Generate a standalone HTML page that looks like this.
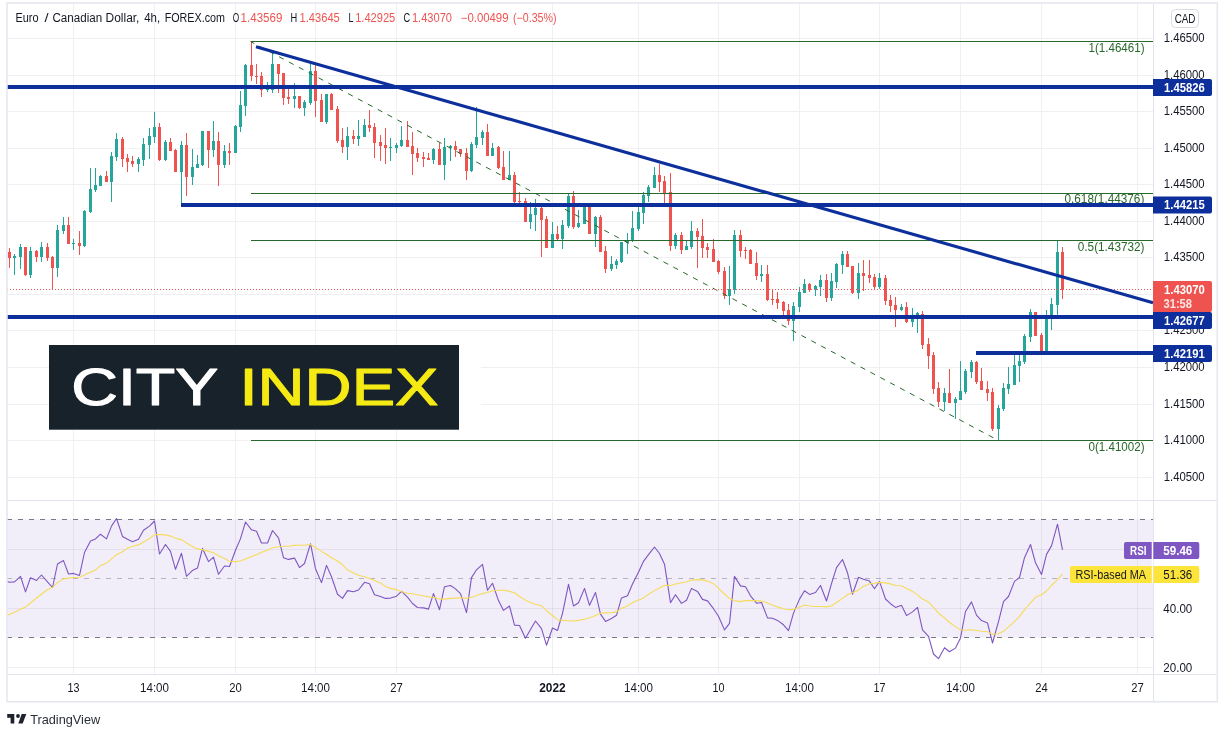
<!DOCTYPE html>
<html lang="en"><head><meta charset="utf-8"><title>EUR/CAD 4h chart</title>
<style>html,body{margin:0;padding:0;background:#fff}body{width:1227px;height:737px;overflow:hidden}svg{display:block}text{font-family:"Liberation Sans", sans-serif}</style>
</head><body>
<svg width="1227" height="737" viewBox="0 0 1227 737">
<rect x="0" y="0" width="1227" height="737" fill="#ffffff"/>
<g stroke="#f0f0f2" stroke-width="1" shape-rendering="crispEdges">
<line x1="73.5" y1="3" x2="73.5" y2="674"/>
<line x1="154.5" y1="3" x2="154.5" y2="674"/>
<line x1="235.5" y1="3" x2="235.5" y2="674"/>
<line x1="315.5" y1="3" x2="315.5" y2="674"/>
<line x1="396.5" y1="3" x2="396.5" y2="674"/>
<line x1="552.5" y1="3" x2="552.5" y2="674"/>
<line x1="638.5" y1="3" x2="638.5" y2="674"/>
<line x1="718.5" y1="3" x2="718.5" y2="674"/>
<line x1="799.5" y1="3" x2="799.5" y2="674"/>
<line x1="879.5" y1="3" x2="879.5" y2="674"/>
<line x1="960.5" y1="3" x2="960.5" y2="674"/>
<line x1="1041.5" y1="3" x2="1041.5" y2="674"/>
<line x1="1137.5" y1="3" x2="1137.5" y2="674"/>
<line x1="7" y1="38.5" x2="1153" y2="38.5"/>
<line x1="7" y1="75.5" x2="1153" y2="75.5"/>
<line x1="7" y1="111.5" x2="1153" y2="111.5"/>
<line x1="7" y1="148.5" x2="1153" y2="148.5"/>
<line x1="7" y1="184.5" x2="1153" y2="184.5"/>
<line x1="7" y1="221.5" x2="1153" y2="221.5"/>
<line x1="7" y1="257.5" x2="1153" y2="257.5"/>
<line x1="7" y1="294.5" x2="1153" y2="294.5"/>
<line x1="7" y1="330.5" x2="1153" y2="330.5"/>
<line x1="7" y1="367.5" x2="1153" y2="367.5"/>
<line x1="7" y1="404.5" x2="1153" y2="404.5"/>
<line x1="7" y1="440.5" x2="1153" y2="440.5"/>
<line x1="7" y1="477.5" x2="1153" y2="477.5"/>
</g>
<rect x="7" y="519.5" width="1146" height="118" fill="#7e57c2" fill-opacity="0.105"/>
<g stroke="#2a2e39" stroke-opacity="0.07" stroke-width="1" shape-rendering="crispEdges">
<line x1="7" y1="549.5" x2="1153" y2="549.5"/>
<line x1="7" y1="608.5" x2="1153" y2="608.5"/>
<line x1="7" y1="667.5" x2="1153" y2="667.5"/>
</g>
<g stroke-width="1" fill="none" shape-rendering="crispEdges">
<line x1="7" y1="519.5" x2="1153" y2="519.5" stroke="#787b86" stroke-dasharray="5 6"/>
<line x1="7" y1="637.5" x2="1153" y2="637.5" stroke="#787b86" stroke-dasharray="5 6"/>
<line x1="7" y1="578.5" x2="1153" y2="578.5" stroke="#787b86" stroke-opacity="0.5" stroke-dasharray="5 6"/>
</g>
<g fill="#26a69a" shape-rendering="crispEdges"><rect x="14" y="254" width="1" height="21"/><rect x="13" y="256" width="3" height="2"/><rect x="20" y="244" width="1" height="25"/><rect x="19" y="247" width="3" height="10"/><rect x="30" y="247" width="1" height="31"/><rect x="29" y="251" width="3" height="24"/><rect x="41" y="242" width="1" height="20"/><rect x="40" y="247" width="3" height="10"/><rect x="57" y="225" width="1" height="52"/><rect x="56" y="230" width="3" height="38"/><rect x="63" y="217" width="1" height="17"/><rect x="62" y="225" width="3" height="6"/><rect x="73" y="239" width="1" height="11"/><rect x="72" y="243" width="3" height="1"/><rect x="84" y="210" width="1" height="37"/><rect x="83" y="211" width="3" height="35"/><rect x="90" y="168" width="1" height="45"/><rect x="89" y="189" width="3" height="23"/><rect x="95" y="168" width="1" height="24"/><rect x="94" y="185" width="3" height="5"/><rect x="100" y="175" width="1" height="11"/><rect x="99" y="176" width="3" height="10"/><rect x="111" y="152" width="1" height="50"/><rect x="110" y="156" width="3" height="26"/><rect x="116" y="133" width="1" height="28"/><rect x="115" y="139" width="3" height="18"/><rect x="138" y="157" width="1" height="15"/><rect x="137" y="159" width="3" height="5"/><rect x="143" y="138" width="1" height="28"/><rect x="142" y="144" width="3" height="16"/><rect x="149" y="128" width="1" height="31"/><rect x="148" y="136" width="3" height="9"/><rect x="154" y="112" width="1" height="31"/><rect x="153" y="127" width="3" height="10"/><rect x="165" y="140" width="1" height="21"/><rect x="164" y="142" width="3" height="18"/><rect x="181" y="141" width="1" height="63"/><rect x="180" y="145" width="3" height="27"/><rect x="192" y="149" width="1" height="36"/><rect x="191" y="167" width="3" height="10"/><rect x="197" y="155" width="1" height="13"/><rect x="196" y="164" width="3" height="4"/><rect x="202" y="131" width="1" height="35"/><rect x="201" y="131" width="3" height="34"/><rect x="213" y="121" width="1" height="36"/><rect x="212" y="141" width="3" height="9"/><rect x="224" y="145" width="1" height="23"/><rect x="223" y="151" width="3" height="14"/><rect x="235" y="125" width="1" height="28"/><rect x="234" y="126" width="3" height="27"/><rect x="240" y="91" width="1" height="41"/><rect x="239" y="105" width="3" height="22"/><rect x="245" y="64" width="1" height="52"/><rect x="244" y="65" width="3" height="41"/><rect x="267" y="82" width="1" height="10"/><rect x="266" y="86" width="3" height="4"/><rect x="272" y="53" width="1" height="40"/><rect x="271" y="64" width="3" height="26"/><rect x="294" y="83" width="1" height="25"/><rect x="293" y="96" width="3" height="3"/><rect x="304" y="100" width="1" height="16"/><rect x="303" y="102" width="3" height="6"/><rect x="310" y="64" width="1" height="41"/><rect x="309" y="71" width="3" height="32"/><rect x="326" y="94" width="1" height="30"/><rect x="325" y="94" width="3" height="28"/><rect x="347" y="127" width="1" height="33"/><rect x="346" y="136" width="3" height="11"/><rect x="358" y="120" width="1" height="26"/><rect x="357" y="136" width="3" height="3"/><rect x="364" y="119" width="1" height="18"/><rect x="363" y="125" width="3" height="12"/><rect x="390" y="138" width="1" height="23"/><rect x="389" y="147" width="3" height="1"/><rect x="396" y="143" width="1" height="10"/><rect x="395" y="145" width="3" height="3"/><rect x="401" y="126" width="1" height="21"/><rect x="400" y="140" width="3" height="6"/><rect x="433" y="148" width="1" height="16"/><rect x="432" y="149" width="3" height="11"/><rect x="444" y="138" width="1" height="42"/><rect x="443" y="147" width="3" height="18"/><rect x="450" y="145" width="1" height="16"/><rect x="449" y="146" width="3" height="2"/><rect x="471" y="142" width="1" height="30"/><rect x="470" y="144" width="3" height="27"/><rect x="476" y="107" width="1" height="41"/><rect x="475" y="137" width="3" height="8"/><rect x="482" y="130" width="1" height="15"/><rect x="481" y="132" width="3" height="6"/><rect x="492" y="143" width="1" height="13"/><rect x="491" y="148" width="3" height="8"/><rect x="509" y="151" width="1" height="29"/><rect x="508" y="175" width="3" height="5"/><rect x="530" y="202" width="1" height="27"/><rect x="529" y="214" width="3" height="8"/><rect x="535" y="199" width="1" height="32"/><rect x="534" y="208" width="3" height="7"/><rect x="552" y="222" width="1" height="26"/><rect x="551" y="234" width="3" height="14"/><rect x="562" y="220" width="1" height="29"/><rect x="561" y="225" width="3" height="14"/><rect x="568" y="194" width="1" height="34"/><rect x="567" y="196" width="3" height="30"/><rect x="578" y="210" width="1" height="18"/><rect x="577" y="223" width="3" height="4"/><rect x="584" y="206" width="1" height="18"/><rect x="583" y="206" width="3" height="18"/><rect x="595" y="216" width="1" height="31"/><rect x="594" y="217" width="3" height="17"/><rect x="611" y="256" width="1" height="15"/><rect x="610" y="264" width="3" height="5"/><rect x="616" y="259" width="1" height="10"/><rect x="615" y="261" width="3" height="4"/><rect x="621" y="242" width="1" height="21"/><rect x="620" y="242" width="3" height="20"/><rect x="627" y="233" width="1" height="21"/><rect x="626" y="241" width="3" height="2"/><rect x="632" y="211" width="1" height="31"/><rect x="631" y="228" width="3" height="13"/><rect x="638" y="206" width="1" height="25"/><rect x="637" y="212" width="3" height="17"/><rect x="643" y="192" width="1" height="32"/><rect x="642" y="195" width="3" height="18"/><rect x="648" y="185" width="1" height="17"/><rect x="647" y="187" width="3" height="9"/><rect x="654" y="167" width="1" height="21"/><rect x="653" y="175" width="3" height="13"/><rect x="675" y="233" width="1" height="16"/><rect x="674" y="235" width="3" height="11"/><rect x="686" y="241" width="1" height="9"/><rect x="685" y="246" width="3" height="4"/><rect x="691" y="221" width="1" height="28"/><rect x="690" y="231" width="3" height="16"/><rect x="729" y="266" width="1" height="39"/><rect x="728" y="289" width="3" height="7"/><rect x="734" y="230" width="1" height="64"/><rect x="733" y="235" width="3" height="55"/><rect x="761" y="265" width="1" height="17"/><rect x="760" y="274" width="3" height="2"/><rect x="793" y="302" width="1" height="39"/><rect x="792" y="306" width="3" height="15"/><rect x="799" y="287" width="1" height="25"/><rect x="798" y="292" width="3" height="15"/><rect x="804" y="279" width="1" height="14"/><rect x="803" y="284" width="3" height="9"/><rect x="815" y="285" width="1" height="11"/><rect x="814" y="286" width="3" height="4"/><rect x="820" y="275" width="1" height="21"/><rect x="819" y="280" width="3" height="7"/><rect x="831" y="273" width="1" height="28"/><rect x="830" y="281" width="3" height="17"/><rect x="836" y="263" width="1" height="25"/><rect x="835" y="264" width="3" height="18"/><rect x="842" y="251" width="1" height="23"/><rect x="841" y="254" width="3" height="11"/><rect x="858" y="263" width="1" height="36"/><rect x="857" y="273" width="3" height="20"/><rect x="879" y="273" width="1" height="16"/><rect x="878" y="278" width="3" height="9"/><rect x="901" y="304" width="1" height="7"/><rect x="900" y="307" width="3" height="3"/><rect x="912" y="308" width="1" height="19"/><rect x="911" y="316" width="3" height="6"/><rect x="917" y="312" width="1" height="21"/><rect x="916" y="313" width="3" height="2"/><rect x="944" y="388" width="1" height="23"/><rect x="943" y="393" width="3" height="9"/><rect x="955" y="397" width="1" height="22"/><rect x="954" y="399" width="3" height="4"/><rect x="960" y="361" width="1" height="39"/><rect x="959" y="391" width="3" height="9"/><rect x="965" y="369" width="1" height="25"/><rect x="964" y="371" width="3" height="21"/><rect x="971" y="360" width="1" height="18"/><rect x="970" y="362" width="3" height="10"/><rect x="998" y="405" width="1" height="35"/><rect x="997" y="408" width="3" height="21"/><rect x="1003" y="383" width="1" height="28"/><rect x="1002" y="388" width="3" height="21"/><rect x="1008" y="367" width="1" height="27"/><rect x="1007" y="384" width="3" height="5"/><rect x="1014" y="355" width="1" height="30"/><rect x="1013" y="365" width="3" height="20"/><rect x="1019" y="355" width="1" height="27"/><rect x="1018" y="361" width="3" height="5"/><rect x="1024" y="334" width="1" height="30"/><rect x="1023" y="336" width="3" height="26"/><rect x="1030" y="309" width="1" height="33"/><rect x="1029" y="312" width="3" height="25"/><rect x="1046" y="310" width="1" height="42"/><rect x="1045" y="317" width="3" height="35"/><rect x="1051" y="298" width="1" height="32"/><rect x="1050" y="304" width="3" height="11"/><rect x="1057" y="241" width="1" height="74"/><rect x="1056" y="252" width="3" height="53"/></g>
<g fill="#ef5350" shape-rendering="crispEdges"><rect x="9" y="248" width="1" height="20"/><rect x="8" y="252" width="3" height="6"/><rect x="25" y="247" width="1" height="29"/><rect x="24" y="247" width="3" height="28"/><rect x="36" y="250" width="1" height="12"/><rect x="35" y="251" width="3" height="6"/><rect x="47" y="243" width="1" height="18"/><rect x="46" y="247" width="3" height="11"/><rect x="52" y="256" width="1" height="33"/><rect x="51" y="257" width="3" height="11"/><rect x="68" y="217" width="1" height="27"/><rect x="67" y="225" width="3" height="19"/><rect x="79" y="231" width="1" height="24"/><rect x="78" y="243" width="3" height="3"/><rect x="106" y="171" width="1" height="11"/><rect x="105" y="176" width="3" height="6"/><rect x="122" y="137" width="1" height="30"/><rect x="121" y="139" width="3" height="20"/><rect x="127" y="154" width="1" height="18"/><rect x="126" y="158" width="3" height="4"/><rect x="132" y="156" width="1" height="11"/><rect x="131" y="161" width="3" height="3"/><rect x="159" y="123" width="1" height="38"/><rect x="158" y="127" width="3" height="33"/><rect x="170" y="138" width="1" height="13"/><rect x="169" y="142" width="3" height="9"/><rect x="175" y="149" width="1" height="23"/><rect x="174" y="150" width="3" height="22"/><rect x="186" y="133" width="1" height="63"/><rect x="185" y="145" width="3" height="32"/><rect x="208" y="131" width="1" height="37"/><rect x="207" y="131" width="3" height="19"/><rect x="218" y="132" width="1" height="54"/><rect x="217" y="141" width="3" height="24"/><rect x="229" y="143" width="1" height="22"/><rect x="228" y="151" width="3" height="2"/><rect x="251" y="41" width="1" height="40"/><rect x="250" y="65" width="3" height="11"/><rect x="256" y="64" width="1" height="20"/><rect x="255" y="76" width="3" height="1"/><rect x="261" y="72" width="1" height="25"/><rect x="260" y="76" width="3" height="14"/><rect x="278" y="64" width="1" height="29"/><rect x="277" y="64" width="3" height="10"/><rect x="283" y="73" width="1" height="32"/><rect x="282" y="73" width="3" height="25"/><rect x="288" y="89" width="1" height="15"/><rect x="287" y="97" width="3" height="2"/><rect x="299" y="96" width="1" height="13"/><rect x="298" y="96" width="3" height="12"/><rect x="315" y="65" width="1" height="52"/><rect x="314" y="71" width="3" height="30"/><rect x="321" y="94" width="1" height="28"/><rect x="320" y="100" width="3" height="22"/><rect x="331" y="93" width="1" height="17"/><rect x="330" y="94" width="3" height="16"/><rect x="337" y="106" width="1" height="37"/><rect x="336" y="109" width="3" height="32"/><rect x="342" y="128" width="1" height="25"/><rect x="341" y="140" width="3" height="7"/><rect x="353" y="130" width="1" height="14"/><rect x="352" y="136" width="3" height="3"/><rect x="369" y="110" width="1" height="22"/><rect x="368" y="125" width="3" height="3"/><rect x="374" y="123" width="1" height="35"/><rect x="373" y="127" width="3" height="16"/><rect x="380" y="135" width="1" height="26"/><rect x="379" y="142" width="3" height="4"/><rect x="385" y="128" width="1" height="36"/><rect x="384" y="145" width="3" height="3"/><rect x="407" y="121" width="1" height="26"/><rect x="406" y="140" width="3" height="7"/><rect x="412" y="132" width="1" height="43"/><rect x="411" y="146" width="3" height="8"/><rect x="417" y="148" width="1" height="14"/><rect x="416" y="153" width="3" height="5"/><rect x="423" y="152" width="1" height="15"/><rect x="422" y="157" width="3" height="2"/><rect x="428" y="153" width="1" height="7"/><rect x="427" y="158" width="3" height="2"/><rect x="439" y="143" width="1" height="22"/><rect x="438" y="149" width="3" height="16"/><rect x="455" y="141" width="1" height="16"/><rect x="454" y="146" width="3" height="4"/><rect x="460" y="149" width="1" height="8"/><rect x="459" y="149" width="3" height="5"/><rect x="466" y="148" width="1" height="32"/><rect x="465" y="153" width="3" height="18"/><rect x="487" y="124" width="1" height="32"/><rect x="486" y="132" width="3" height="24"/><rect x="498" y="146" width="1" height="23"/><rect x="497" y="147" width="3" height="21"/><rect x="503" y="151" width="1" height="29"/><rect x="502" y="167" width="3" height="13"/><rect x="514" y="172" width="1" height="31"/><rect x="513" y="175" width="3" height="27"/><rect x="519" y="192" width="1" height="11"/><rect x="518" y="201" width="3" height="1"/><rect x="525" y="198" width="1" height="24"/><rect x="524" y="201" width="3" height="21"/><rect x="541" y="207" width="1" height="50"/><rect x="540" y="208" width="3" height="12"/><rect x="546" y="216" width="1" height="32"/><rect x="545" y="219" width="3" height="29"/><rect x="557" y="226" width="1" height="14"/><rect x="556" y="234" width="3" height="5"/><rect x="573" y="191" width="1" height="38"/><rect x="572" y="196" width="3" height="31"/><rect x="589" y="206" width="1" height="28"/><rect x="588" y="206" width="3" height="28"/><rect x="600" y="215" width="1" height="37"/><rect x="599" y="217" width="3" height="35"/><rect x="605" y="246" width="1" height="27"/><rect x="604" y="251" width="3" height="18"/><rect x="659" y="164" width="1" height="28"/><rect x="658" y="175" width="3" height="7"/><rect x="664" y="176" width="1" height="27"/><rect x="663" y="181" width="3" height="12"/><rect x="670" y="173" width="1" height="78"/><rect x="669" y="192" width="3" height="54"/><rect x="681" y="232" width="1" height="22"/><rect x="680" y="235" width="3" height="15"/><rect x="697" y="228" width="1" height="40"/><rect x="696" y="231" width="3" height="6"/><rect x="702" y="219" width="1" height="39"/><rect x="701" y="236" width="3" height="12"/><rect x="707" y="243" width="1" height="15"/><rect x="706" y="247" width="3" height="3"/><rect x="713" y="239" width="1" height="23"/><rect x="712" y="249" width="3" height="13"/><rect x="718" y="260" width="1" height="14"/><rect x="717" y="261" width="3" height="11"/><rect x="724" y="267" width="1" height="32"/><rect x="723" y="271" width="3" height="25"/><rect x="740" y="230" width="1" height="27"/><rect x="739" y="235" width="3" height="16"/><rect x="745" y="247" width="1" height="12"/><rect x="744" y="250" width="3" height="1"/><rect x="750" y="249" width="1" height="15"/><rect x="749" y="250" width="3" height="14"/><rect x="756" y="252" width="1" height="28"/><rect x="755" y="263" width="3" height="13"/><rect x="767" y="265" width="1" height="36"/><rect x="766" y="274" width="3" height="26"/><rect x="772" y="289" width="1" height="16"/><rect x="771" y="299" width="3" height="1"/><rect x="777" y="292" width="1" height="17"/><rect x="776" y="299" width="3" height="4"/><rect x="783" y="301" width="1" height="14"/><rect x="782" y="302" width="3" height="9"/><rect x="788" y="304" width="1" height="21"/><rect x="787" y="310" width="3" height="11"/><rect x="809" y="283" width="1" height="9"/><rect x="808" y="284" width="3" height="6"/><rect x="826" y="274" width="1" height="28"/><rect x="825" y="280" width="3" height="18"/><rect x="847" y="251" width="1" height="16"/><rect x="846" y="254" width="3" height="13"/><rect x="852" y="266" width="1" height="28"/><rect x="851" y="266" width="3" height="27"/><rect x="863" y="260" width="1" height="31"/><rect x="862" y="273" width="3" height="3"/><rect x="869" y="260" width="1" height="23"/><rect x="868" y="275" width="3" height="3"/><rect x="874" y="274" width="1" height="16"/><rect x="873" y="277" width="3" height="10"/><rect x="885" y="275" width="1" height="30"/><rect x="884" y="278" width="3" height="23"/><rect x="890" y="295" width="1" height="17"/><rect x="889" y="300" width="3" height="6"/><rect x="895" y="297" width="1" height="30"/><rect x="894" y="305" width="3" height="5"/><rect x="906" y="302" width="1" height="21"/><rect x="905" y="307" width="3" height="15"/><rect x="922" y="311" width="1" height="38"/><rect x="921" y="314" width="3" height="31"/><rect x="928" y="338" width="1" height="31"/><rect x="927" y="344" width="3" height="12"/><rect x="933" y="352" width="1" height="42"/><rect x="932" y="355" width="3" height="34"/><rect x="938" y="382" width="1" height="25"/><rect x="937" y="388" width="3" height="14"/><rect x="949" y="369" width="1" height="34"/><rect x="948" y="393" width="3" height="10"/><rect x="976" y="361" width="1" height="23"/><rect x="975" y="362" width="3" height="20"/><rect x="981" y="368" width="1" height="22"/><rect x="980" y="381" width="3" height="9"/><rect x="987" y="381" width="1" height="20"/><rect x="986" y="389" width="3" height="4"/><rect x="992" y="388" width="1" height="43"/><rect x="991" y="392" width="3" height="37"/><rect x="1035" y="312" width="1" height="24"/><rect x="1034" y="312" width="3" height="24"/><rect x="1041" y="333" width="1" height="19"/><rect x="1040" y="335" width="3" height="17"/><rect x="1062" y="247" width="1" height="52"/><rect x="1061" y="252" width="3" height="38"/></g>
<g stroke="#28682a" stroke-width="1" shape-rendering="crispEdges">
<line x1="250.5" y1="41.5" x2="1153" y2="41.5"/>
<line x1="250.5" y1="193.5" x2="1153" y2="193.5"/>
<line x1="250.5" y1="240.5" x2="1153" y2="240.5"/>
<line x1="250.5" y1="440.5" x2="1153" y2="440.5"/>
</g>
<line x1="250.5" y1="41.5" x2="997.5" y2="440" stroke="#28682a" stroke-width="1" stroke-dasharray="5.3 5.87" stroke-dashoffset="1.1"/>
<text x="1088.5" y="52.3" font-size="12" fill="#28682a" textLength="56.0" lengthAdjust="spacingAndGlyphs">1(1.46461)</text>
<text x="1064.5" y="203.3" font-size="12" fill="#28682a" textLength="79.8" lengthAdjust="spacingAndGlyphs">0.618(1.44376)</text>
<text x="1077.8" y="250.7" font-size="12" fill="#28682a" textLength="66.7" lengthAdjust="spacingAndGlyphs">0.5(1.43732)</text>
<text x="1088.5" y="451.3" font-size="12" fill="#28682a" textLength="56.0" lengthAdjust="spacingAndGlyphs">0(1.41002)</text>
<line x1="7" y1="289.5" x2="1153" y2="289.5" stroke="#ef5350" stroke-width="1" stroke-dasharray="1 2" shape-rendering="crispEdges"/>
<g stroke="#0c2f9c" stroke-width="4" fill="none">
<line x1="7" y1="87" x2="1153" y2="87"/>
<line x1="181" y1="205" x2="1153" y2="205"/>
<line x1="7" y1="317" x2="1153" y2="317"/>
<line x1="976" y1="353" x2="1153" y2="353"/>
</g>
<line x1="256" y1="46.8" x2="1153" y2="302.8" stroke="#0c2f9c" stroke-width="3.1"/>
<polyline fill="none" stroke="#7e57c2" stroke-width="1.1" stroke-linejoin="round" points="7.0,581.2 9.5,582.2 14.5,581.9 20.5,576.3 25.5,591.9 30.5,577.8 36.5,580.4 41.5,575.0 47.5,581.9 52.5,587.5 57.5,564.0 63.5,560.6 68.5,574.0 73.5,573.4 79.5,575.4 84.5,552.5 90.5,541.1 95.5,538.9 100.5,534.2 106.5,538.9 111.5,526.1 116.5,518.5 122.5,536.4 127.5,539.3 132.5,541.8 138.5,539.3 143.5,530.2 149.5,526.1 154.5,521.0 159.5,554.0 165.5,544.5 170.5,551.4 175.5,569.3 181.5,553.3 186.5,576.3 192.5,570.4 197.5,568.1 202.5,548.4 208.5,561.6 213.5,557.2 218.5,574.3 224.5,566.0 229.5,566.5 235.5,550.3 240.5,538.6 245.5,522.0 251.5,529.8 256.5,531.3 261.5,543.0 267.5,543.0 272.5,530.5 278.5,537.9 283.5,557.7 288.5,559.4 294.5,558.1 299.5,567.6 304.5,563.5 310.5,543.7 315.5,568.7 321.5,582.6 326.5,565.4 331.5,576.7 337.5,594.3 342.5,598.4 347.5,590.6 353.5,591.8 358.5,590.0 364.5,582.3 369.5,583.7 374.5,594.7 380.5,596.6 385.5,598.4 390.5,598.1 396.5,596.2 401.5,591.4 407.5,597.2 412.5,603.5 417.5,607.5 423.5,607.9 428.5,609.1 433.5,593.6 439.5,609.7 444.5,586.7 450.5,585.5 455.5,588.9 460.5,593.6 466.5,612.6 471.5,577.6 476.5,569.8 482.5,564.4 487.5,590.3 492.5,583.3 498.5,600.6 503.5,610.4 509.5,606.0 514.5,625.1 519.5,625.5 525.5,638.3 530.5,629.5 535.5,621.0 541.5,628.7 546.5,645.2 552.5,628.0 557.5,630.5 562.5,613.3 568.5,584.4 573.5,606.0 578.5,602.8 584.5,588.4 589.5,605.3 595.5,592.5 600.5,614.1 605.5,621.4 611.5,618.5 616.5,615.3 621.5,597.9 627.5,595.7 632.5,584.0 638.5,572.3 643.5,561.3 648.5,554.7 654.5,547.0 659.5,553.5 664.5,564.2 670.5,602.6 675.5,594.7 681.5,603.4 686.5,600.3 691.5,588.4 697.5,591.4 702.5,599.4 707.5,600.9 713.5,608.7 718.5,616.3 724.5,629.9 729.5,623.3 734.5,576.4 740.5,585.9 745.5,586.7 750.5,595.8 756.5,603.2 761.5,602.5 767.5,617.9 772.5,618.2 777.5,620.4 783.5,624.8 788.5,630.7 793.5,613.1 799.5,599.1 804.5,590.8 809.5,594.4 815.5,592.5 820.5,585.5 826.5,601.0 831.5,583.7 836.5,567.6 842.5,559.5 847.5,572.7 852.5,594.3 858.5,577.3 863.5,579.2 869.5,581.1 874.5,588.7 879.5,581.4 885.5,599.0 890.5,603.7 895.5,607.4 901.5,605.3 906.5,615.6 912.5,611.9 917.5,607.4 922.5,629.8 928.5,636.4 933.5,654.0 938.5,658.7 944.5,647.7 949.5,651.8 955.5,648.1 960.5,637.9 965.5,611.5 971.5,601.9 976.5,615.1 981.5,620.6 987.5,622.9 992.5,643.0 998.5,621.7 1003.5,601.7 1008.5,596.5 1014.5,581.4 1019.5,577.5 1024.5,557.7 1030.5,544.5 1035.5,562.8 1041.5,574.5 1046.5,554.4 1051.5,545.9 1057.5,524.2 1062.5,549.9"/>
<polyline fill="none" stroke="#f7dc5a" stroke-width="1.1" stroke-linejoin="round" points="7.0,614.6 9.5,614.6 25.5,607.1 36.5,598.0 47.5,589.5 52.5,587.5 57.5,582.6 63.5,578.9 73.5,577.5 79.5,577.2 90.5,572.3 95.5,569.9 100.5,565.7 106.5,563.1 116.5,554.7 122.5,551.8 127.5,548.1 132.5,546.2 138.5,544.9 149.5,538.6 154.5,534.6 159.5,534.5 165.5,534.9 170.5,536.1 175.5,538.2 181.5,539.6 186.5,543.0 192.5,546.4 197.5,548.9 202.5,549.6 208.5,551.4 213.5,552.8 218.5,555.8 224.5,558.4 229.5,561.3 235.5,561.6 240.5,561.0 245.5,559.1 251.5,556.6 256.5,554.7 261.5,552.2 267.5,550.3 272.5,547.7 278.5,546.7 283.5,546.2 288.5,546.2 294.5,545.4 299.5,545.2 304.5,545.2 310.5,544.6 315.5,547.4 321.5,551.4 326.5,554.3 331.5,557.7 337.5,561.0 342.5,564.7 347.5,569.8 353.5,573.0 358.5,575.2 364.5,576.7 369.5,578.6 374.5,580.5 380.5,583.0 385.5,586.4 390.5,588.4 396.5,589.6 401.5,591.8 407.5,593.3 412.5,593.7 417.5,594.7 423.5,595.8 428.5,596.9 433.5,597.2 439.5,599.1 444.5,599.1 450.5,598.4 455.5,598.1 460.5,597.7 466.5,598.4 471.5,597.2 476.5,595.5 482.5,593.6 487.5,592.5 492.5,590.8 498.5,590.3 503.5,590.3 509.5,591.4 514.5,592.8 519.5,596.5 525.5,600.1 530.5,602.8 535.5,604.3 541.5,605.7 546.5,610.7 552.5,615.5 557.5,619.7 562.5,620.4 568.5,620.7 573.5,621.0 578.5,620.4 584.5,619.2 589.5,617.7 595.5,615.5 600.5,613.3 605.5,612.9 611.5,612.6 616.5,611.9 621.5,608.2 627.5,606.0 632.5,602.6 638.5,599.9 643.5,597.9 648.5,594.3 654.5,590.6 659.5,588.1 664.5,585.2 670.5,585.5 675.5,584.0 681.5,582.8 686.5,582.0 691.5,580.1 697.5,579.6 702.5,579.9 707.5,581.1 713.5,583.7 718.5,588.4 724.5,594.0 729.5,598.4 734.5,600.6 740.5,601.6 745.5,600.6 750.5,600.6 756.5,600.6 761.5,600.9 767.5,603.1 772.5,605.0 777.5,606.9 783.5,608.7 788.5,609.7 793.5,609.4 799.5,607.2 804.5,605.0 809.5,606.0 815.5,606.5 820.5,606.5 826.5,606.9 831.5,605.7 836.5,602.5 842.5,598.4 847.5,594.7 852.5,592.8 858.5,589.9 863.5,586.2 869.5,583.9 874.5,583.2 879.5,582.4 885.5,582.9 890.5,583.9 895.5,585.5 901.5,585.8 906.5,588.4 912.5,591.4 917.5,594.9 922.5,599.0 928.5,601.9 933.5,607.4 938.5,613.2 944.5,617.8 949.5,622.5 955.5,626.6 960.5,629.8 965.5,630.3 971.5,629.8 976.5,630.5 981.5,631.3 987.5,631.7 992.5,634.2 998.5,633.8 1003.5,631.3 1008.5,626.9 1014.5,621.7 1019.5,616.4 1024.5,609.8 1030.5,602.9 1035.5,597.3 1041.5,594.8 1046.5,591.0 1051.5,585.5 1057.5,579.7 1062.5,574.1"/>
<rect x="1154" y="4" width="63" height="697" fill="#fff"/>
<rect x="7" y="675" width="1210" height="26" fill="#fff"/>
<rect x="7" y="501" width="1146" height="1" fill="#fff"/>
<g stroke="#e1e4ec" stroke-width="1" shape-rendering="crispEdges">
<line x1="7" y1="500.5" x2="1217" y2="500.5"/>
<line x1="7" y1="674.5" x2="1217" y2="674.5"/>
<line x1="1153.5" y1="3" x2="1153.5" y2="702"/>
</g>
<rect x="7" y="3" width="1210.3" height="698.8" fill="none" stroke="#e6e8f0" stroke-width="1.6"/>
<text x="1163.7" y="42.3" font-size="12" fill="#131722" textLength="41" lengthAdjust="spacingAndGlyphs">1.46500</text>
<text x="1163.7" y="79.3" font-size="12" fill="#131722" textLength="41" lengthAdjust="spacingAndGlyphs">1.46000</text>
<text x="1163.7" y="115.3" font-size="12" fill="#131722" textLength="41" lengthAdjust="spacingAndGlyphs">1.45500</text>
<text x="1163.7" y="152.3" font-size="12" fill="#131722" textLength="41" lengthAdjust="spacingAndGlyphs">1.45000</text>
<text x="1163.7" y="188.3" font-size="12" fill="#131722" textLength="41" lengthAdjust="spacingAndGlyphs">1.44500</text>
<text x="1163.7" y="225.3" font-size="12" fill="#131722" textLength="41" lengthAdjust="spacingAndGlyphs">1.44000</text>
<text x="1163.7" y="261.3" font-size="12" fill="#131722" textLength="41" lengthAdjust="spacingAndGlyphs">1.43500</text>
<text x="1163.7" y="298.3" font-size="12" fill="#131722" textLength="41" lengthAdjust="spacingAndGlyphs">1.43000</text>
<text x="1163.7" y="334.3" font-size="12" fill="#131722" textLength="41" lengthAdjust="spacingAndGlyphs">1.42500</text>
<text x="1163.7" y="371.3" font-size="12" fill="#131722" textLength="41" lengthAdjust="spacingAndGlyphs">1.42000</text>
<text x="1163.7" y="408.3" font-size="12" fill="#131722" textLength="41" lengthAdjust="spacingAndGlyphs">1.41500</text>
<text x="1163.7" y="444.3" font-size="12" fill="#131722" textLength="41" lengthAdjust="spacingAndGlyphs">1.41000</text>
<text x="1163.7" y="481.3" font-size="12" fill="#131722" textLength="41" lengthAdjust="spacingAndGlyphs">1.40500</text>
<text x="1163.3" y="612.7" font-size="12" fill="#131722" textLength="29" lengthAdjust="spacingAndGlyphs">40.00</text>
<text x="1163.3" y="671.7" font-size="12" fill="#131722" textLength="29" lengthAdjust="spacingAndGlyphs">20.00</text>
<rect x="1171.5" y="9.5" width="27" height="18" rx="4" ry="4" fill="#fff" stroke="#d9dbe3" stroke-width="1"/>
<text x="1174.7" y="22.7" font-size="12" fill="#131722" textLength="20.8" lengthAdjust="spacingAndGlyphs">CAD</text>
<path d="M1153 78.9 h57 a2 2 0 0 1 2 2 v13 a2 2 0 0 1 -2 2 h-57 z" fill="#0c2f9c"/>
<text x="1164" y="91.7" font-size="12" font-weight="bold" fill="#fff" textLength="40.7" lengthAdjust="spacingAndGlyphs">1.45826</text>
<path d="M1153 196.5 h57 a2 2 0 0 1 2 2 v13 a2 2 0 0 1 -2 2 h-57 z" fill="#0c2f9c"/>
<text x="1164" y="209.3" font-size="12" font-weight="bold" fill="#fff" textLength="40.7" lengthAdjust="spacingAndGlyphs">1.44215</text>
<path d="M1153 281 h57 a2 2 0 0 1 2 2 v27 a2 2 0 0 1 -2 2 h-57 z" fill="#ef5350"/>
<text x="1164" y="293.6" font-size="12" font-weight="bold" fill="#fff" textLength="40.7" lengthAdjust="spacingAndGlyphs">1.43070</text>
<text x="1163.5" y="307.5" font-size="12" font-weight="bold" fill="#fff" fill-opacity="0.85" textLength="28.5" lengthAdjust="spacingAndGlyphs">31:58</text>
<path d="M1153 311.9 h57 a2 2 0 0 1 2 2 v13 a2 2 0 0 1 -2 2 h-57 z" fill="#0c2f9c"/>
<text x="1164" y="324.7" font-size="12" font-weight="bold" fill="#fff" textLength="40.7" lengthAdjust="spacingAndGlyphs">1.42677</text>
<path d="M1153 345.0 h57 a2 2 0 0 1 2 2 v13 a2 2 0 0 1 -2 2 h-57 z" fill="#0c2f9c"/>
<text x="1164" y="357.8" font-size="12" font-weight="bold" fill="#fff" textLength="40.7" lengthAdjust="spacingAndGlyphs">1.42191</text>
<rect x="1151.7" y="542" width="1.6" height="41" fill="#fff"/>
<path d="M1126 542 h25.7 v17 h-25.7 a2 2 0 0 1 -2 -2 v-13 a2 2 0 0 1 2 -2 z" fill="#7e57c2"/>
<text x="1130" y="554.8" font-size="12" font-weight="bold" fill="#fff" textLength="16.5" lengthAdjust="spacingAndGlyphs">RSI</text>
<path d="M1153.3 542 h44 a2 2 0 0 1 2 2 v13 a2 2 0 0 1 -2 2 h-44 z" fill="#7e57c2"/>
<text x="1163.3" y="554.8" font-size="12" font-weight="bold" fill="#fff" textLength="29" lengthAdjust="spacingAndGlyphs">59.46</text>
<path d="M1072 566 h79.7 v17 h-79.7 a2 2 0 0 1 -2 -2 v-13 a2 2 0 0 1 2 -2 z" fill="#fde43a"/>
<text x="1075.5" y="578.8" font-size="12" fill="#131722" textLength="70.5" lengthAdjust="spacingAndGlyphs">RSI-based MA</text>
<path d="M1153.3 566 h44 a2 2 0 0 1 2 2 v13 a2 2 0 0 1 -2 2 h-44 z" fill="#fde43a"/>
<text x="1163.3" y="578.8" font-size="12" fill="#131722" textLength="29" lengthAdjust="spacingAndGlyphs">51.36</text>
<text x="67.5" y="691.6" font-size="12" fill="#131722" textLength="12.0" lengthAdjust="spacingAndGlyphs">13</text>
<text x="140.0" y="691.6" font-size="12" fill="#131722" textLength="29.0" lengthAdjust="spacingAndGlyphs">14:00</text>
<text x="229.2" y="691.6" font-size="12" fill="#131722" textLength="12.5" lengthAdjust="spacingAndGlyphs">20</text>
<text x="301.0" y="691.6" font-size="12" fill="#131722" textLength="29.0" lengthAdjust="spacingAndGlyphs">14:00</text>
<text x="390.2" y="691.6" font-size="12" fill="#131722" textLength="12.5" lengthAdjust="spacingAndGlyphs">27</text>
<text x="539.2" y="691.6" font-size="12" fill="#131722" font-weight="bold" textLength="26.5" lengthAdjust="spacingAndGlyphs">2022</text>
<text x="624.0" y="691.6" font-size="12" fill="#131722" textLength="29.0" lengthAdjust="spacingAndGlyphs">14:00</text>
<text x="712.5" y="691.6" font-size="12" fill="#131722" textLength="12.0" lengthAdjust="spacingAndGlyphs">10</text>
<text x="785.0" y="691.6" font-size="12" fill="#131722" textLength="29.0" lengthAdjust="spacingAndGlyphs">14:00</text>
<text x="873.5" y="691.6" font-size="12" fill="#131722" textLength="12.0" lengthAdjust="spacingAndGlyphs">17</text>
<text x="946.0" y="691.6" font-size="12" fill="#131722" textLength="29.0" lengthAdjust="spacingAndGlyphs">14:00</text>
<text x="1035.2" y="691.6" font-size="12" fill="#131722" textLength="12.5" lengthAdjust="spacingAndGlyphs">24</text>
<text x="1131.2" y="691.6" font-size="12" fill="#131722" textLength="12.5" lengthAdjust="spacingAndGlyphs">27</text>
<text x="15.4" y="21.7" font-size="12" fill="#131722" textLength="23.1" lengthAdjust="spacingAndGlyphs">Euro</text>
<text x="44.4" y="21.7" font-size="12" fill="#131722" textLength="4.1" lengthAdjust="spacingAndGlyphs">/</text>
<text x="52.5" y="21.7" font-size="12" fill="#131722" textLength="49.6" lengthAdjust="spacingAndGlyphs">Canadian</text>
<text x="105.6" y="21.7" font-size="12" fill="#131722" textLength="33.8" lengthAdjust="spacingAndGlyphs">Dollar,</text>
<text x="144.2" y="21.7" font-size="12" fill="#131722" textLength="16.0" lengthAdjust="spacingAndGlyphs">4h,</text>
<text x="164.7" y="21.7" font-size="12" fill="#131722" textLength="60.3" lengthAdjust="spacingAndGlyphs">FOREX.com</text>
<text x="232.8" y="21.7" font-size="12" fill="#131722" textLength="6.4" lengthAdjust="spacingAndGlyphs">O</text>
<text x="240.6" y="21.7" font-size="12" fill="#ef5350" textLength="41.8" lengthAdjust="spacingAndGlyphs">1.43569</text>
<text x="290.6" y="21.7" font-size="12" fill="#131722" textLength="6.7" lengthAdjust="spacingAndGlyphs">H</text>
<text x="299.6" y="21.7" font-size="12" fill="#ef5350" textLength="40.2" lengthAdjust="spacingAndGlyphs">1.43645</text>
<text x="348.5" y="21.7" font-size="12" fill="#131722" textLength="5.0" lengthAdjust="spacingAndGlyphs">L</text>
<text x="355.2" y="21.7" font-size="12" fill="#ef5350" textLength="40.1" lengthAdjust="spacingAndGlyphs">1.42925</text>
<text x="403.4" y="21.7" font-size="12" fill="#131722" textLength="6.6" lengthAdjust="spacingAndGlyphs">C</text>
<text x="411.9" y="21.7" font-size="12" fill="#ef5350" textLength="40.1" lengthAdjust="spacingAndGlyphs">1.43070</text>
<text x="460.8" y="21.7" font-size="12" fill="#ef5350" textLength="47.7" lengthAdjust="spacingAndGlyphs">−0.00499</text>
<text x="513.0" y="21.7" font-size="12" fill="#ef5350" textLength="43.5" lengthAdjust="spacingAndGlyphs">(−0.35%)</text>
<rect x="459" y="345" width="22" height="84.7" fill="#ffffff"/>
<rect x="49" y="345" width="410" height="84.7" fill="#18222b"/>
<text x="71.3" y="404.7" font-size="52" fill="#ffffff" stroke="#ffffff" stroke-width="1.1" stroke-linejoin="round" textLength="147" lengthAdjust="spacingAndGlyphs">CITY</text>
<text x="239.5" y="404.7" font-size="52" fill="#f5ea14" stroke="#f5ea14" stroke-width="1.1" stroke-linejoin="round" textLength="199" lengthAdjust="spacingAndGlyphs">INDEX</text>
<g fill="#1e222d"><path d="M7.2 714.1 h7.1 v9.4 h-3.7 v-5.7 h-3.4 z"/><circle cx="18" cy="716" r="1.9"/><path d="M21.7 714.1 h4.6 l-3.6 9.4 h-4.4 z"/></g>
<text x="30.2" y="723.5" font-size="13" fill="#2a2e39" textLength="70" lengthAdjust="spacingAndGlyphs">TradingView</text>
</svg></body></html>
